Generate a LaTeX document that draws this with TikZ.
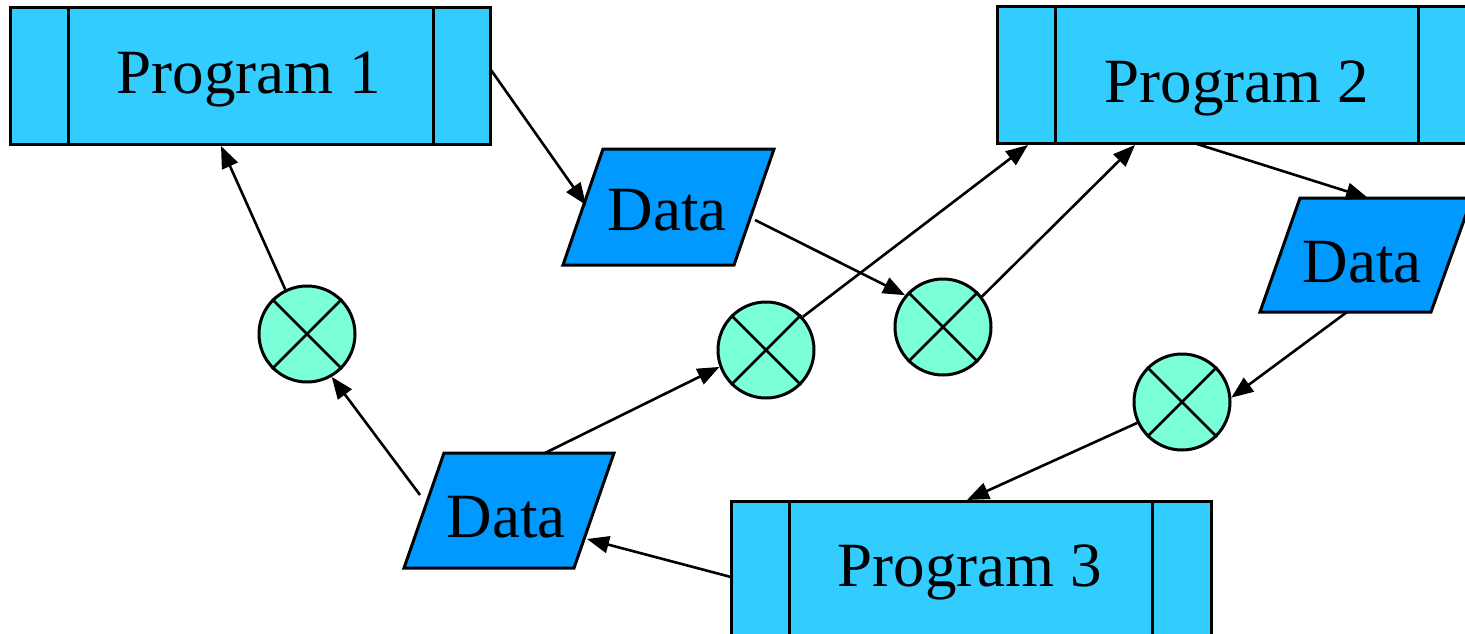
\documentclass[tikz,border=0pt]{standalone}
\usepackage{fontspec}
\setmainfont{Liberation Serif}
\usetikzlibrary{arrows.meta}
\definecolor{progblue}{HTML}{33CCFF}
\definecolor{datablue}{HTML}{0099FF}
\definecolor{mixgreen}{HTML}{7AFFD8}
\begin{document}
\begin{tikzpicture}[x=1pt,y=-1pt,
  prog/.style={draw=black,line width=3pt,fill=progblue,rectangle,minimum width=480pt,minimum height=136pt,inner sep=0pt},
  progtext/.style={inner sep=0pt,font=\fontsize{63}{70}\selectfont},
  databox/.style={draw=black,line width=3pt,fill=datablue,line join=miter},
  datatext/.style={inner sep=0pt,font=\fontsize{63}{70}\selectfont},
  mix/.style={draw=black,line width=3pt,fill=mixgreen,circle,minimum size=96pt,inner sep=0pt},
  conn/.style={line width=2.6pt,-{Triangle[length=22pt,width=17pt]}}]
\useasboundingbox (0,0) rectangle (1465,634);
\clip (0,0) rectangle (1465,634);
% programs
\node[prog] (p1) at (250,76) {};
\node[progtext] (p1t) at (249,80) {Program 1};
\draw[line width=3pt] ([xshift=60pt]p1.north west) -- ([xshift=60pt]p1.south west)
  ([xshift=-58pt]p1.north east) -- ([xshift=-58pt]p1.south east);
\node[prog] (p2) at (1237,75) {};
\node[progtext] (p2t) at (1237,88) {Program 2};
\draw[line width=3pt] ([xshift=60pt]p2.north west) -- ([xshift=60pt]p2.south west)
  ([xshift=-60pt]p2.north east) -- ([xshift=-60pt]p2.south east);
\node[prog] (p3) at (971,569) {};
\node[progtext] (p3t) at (970,572) {Program 3};
\draw[line width=3pt] ([xshift=60pt]p3.north west) -- ([xshift=60pt]p3.south west)
  ([xshift=-60pt]p3.north east) -- ([xshift=-60pt]p3.south east);
% data
\draw[databox] (603,149) -- (774,149) -- (734,265) -- (563,265) -- cycle;
\node[datatext] (d1) at (667,210) {Data};
\draw[databox] (1300,198) -- (1472,198) -- (1431,312) -- (1260,312) -- cycle;
\node[datatext] (d2) at (1362,262) {Data};
\draw[databox] (444,453) -- (614,453) -- (574,568) -- (404,568) -- cycle;
\node[datatext] (d3) at (506,517) {Data};
% mixers
\foreach \n/\x/\y in {c1/307/334, c2/766/350, c3/943/327, c4/1182/402}{
  \node[mix] (\n) at (\x,\y) {};
  \draw[line width=2.6pt] (\n.45) -- (\n.225) (\n.135) -- (\n.315);
}
% connector anchors
\coordinate (p1r) at (491,70);
\coordinate (d1l) at (586,205);
\coordinate (d1r) at (755,220);
\coordinate (p2a) at (1028,145);
\coordinate (p2b) at (1135,145);
\coordinate (p2c) at (1197,144);
\coordinate (d2t) at (1368,198);
\coordinate (d2b) at (1347,312);
\coordinate (p3t0) at (967,500);
\coordinate (p3l) at (731,577);
\coordinate (d3r) at (587,539);
\coordinate (d3l) at (420,495);
\coordinate (d3t) at (545,453);
\coordinate (p1b) at (221,146);
% connectors
\draw[conn] (p1r) -- (d1l);
\draw[conn] (d1r) -- (c3.140);
\draw[conn] (c3.38) -- (p2b);
\draw[conn] (c2.42) -- (p2a);
\draw[conn] (p2c) -- (d2t);
\draw[conn] (d2b) -- (c4.5);
\draw[conn] (c4.205) -- (p3t0);
\draw[conn] (p3l) -- (d3r);
\draw[conn] (d3l) -- (c1.300);
\draw[conn] (d3t) -- (c2.200);
\draw[conn] (c1.116) -- (p1b);
\end{tikzpicture}
\end{document}
